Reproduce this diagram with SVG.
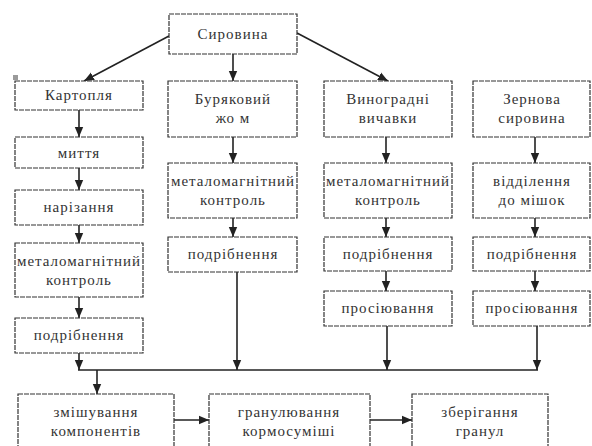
<svg xmlns="http://www.w3.org/2000/svg" width="592" height="446" viewBox="0 0 592 446" font-family="Liberation Serif, DejaVu Serif, serif">
<style>
.b{fill:#fff;stroke:#333;stroke-width:1.2;stroke-dasharray:5 1}
.t{font-size:15px;fill:#333;text-anchor:middle;letter-spacing:1px}
.c{stroke:#222;stroke-width:1.6;fill:none}
.a{marker-end:url(#ah)}
</style>
<defs>
<marker id="ah" markerUnits="userSpaceOnUse" markerWidth="10" markerHeight="10" viewBox="0 0 10 10" refX="10" refY="5" orient="auto">
<path d="M0,0.8 L10,5 L0,9.2 Z" fill="#222"/>
</marker>
</defs>
<rect x="13" y="75" width="5" height="5" fill="#9a9a9a"/>
<g id="connectors">
<line class="c a" x1="169" y1="36" x2="84" y2="81"/>
<line class="c a" x1="297" y1="33" x2="388" y2="81"/>
<line class="c a" x1="233" y1="54" x2="233" y2="81"/>
<line class="c a" x1="79" y1="110" x2="79" y2="137"/>
<line class="c a" x1="79" y1="168" x2="79" y2="190"/>
<line class="c a" x1="79" y1="225" x2="79" y2="243"/>
<line class="c a" x1="79" y1="297" x2="79" y2="318"/>
<line class="c a" x1="79" y1="353" x2="79" y2="370"/>
<line class="c a" x1="233" y1="137" x2="233" y2="163"/>
<line class="c a" x1="233" y1="218" x2="233" y2="237"/>
<line class="c a" x1="237" y1="272" x2="237" y2="370"/>
<line class="c a" x1="386" y1="137" x2="386" y2="163"/>
<line class="c a" x1="386" y1="218" x2="386" y2="237"/>
<line class="c a" x1="386" y1="271" x2="386" y2="291"/>
<line class="c a" x1="387" y1="326" x2="387" y2="370"/>
<line class="c a" x1="535" y1="137" x2="535" y2="163"/>
<line class="c a" x1="535" y1="218" x2="535" y2="237"/>
<line class="c a" x1="535" y1="271" x2="535" y2="291"/>
<line class="c a" x1="537" y1="326" x2="537" y2="370"/>
<line class="c" x1="78" y1="370" x2="538" y2="370"/>
<line class="c a" x1="97" y1="370" x2="97" y2="394"/>
<line class="c a" x1="174" y1="420" x2="209" y2="420"/>
<line class="c a" x1="370" y1="420" x2="412" y2="420"/>
</g>
<g id="n-syrovyna"><rect class="b" x="169" y="14" width="128" height="40"/><text class="t" x="233" y="39">Сировина</text></g>
<g id="n-kartoplia"><rect class="b" x="15" y="81" width="128" height="29"/><text class="t" x="79" y="100">Картопля</text></g>
<g id="n-buriakovyi"><rect class="b" x="168" y="81" width="129" height="56"/><text class="t" x="233" y="104">Буряковий</text><text class="t" x="233" y="123">жо м</text></g>
<g id="n-vynohradni"><rect class="b" x="324" y="81" width="128" height="56"/><text class="t" x="388" y="104">Виноградні</text><text class="t" x="388" y="123">вичавки</text></g>
<g id="n-zernova"><rect class="b" x="473" y="81" width="117" height="56"/><text class="t" x="532" y="104">Зернова</text><text class="t" x="532" y="123">сировина</text></g>
<g id="n-myttia"><rect class="b" x="15" y="137" width="128" height="31"/><text class="t" x="79" y="158">миття</text></g>
<g id="n-nariz"><rect class="b" x="15" y="190" width="128" height="35"/><text class="t" x="79" y="212">нарізання</text></g>
<g id="n-met1"><rect class="b" x="15" y="243" width="128" height="54"/><text class="t" x="79" y="266" textLength="124" lengthAdjust="spacingAndGlyphs">металомагнітний</text><text class="t" x="79" y="285">контроль</text></g>
<g id="n-podr1"><rect class="b" x="15" y="318" width="128" height="35"/><text class="t" x="79" y="340">подрібнення</text></g>
<g id="n-met2"><rect class="b" x="168" y="163" width="129" height="55"/><text class="t" x="233" y="186" textLength="124" lengthAdjust="spacingAndGlyphs">металомагнітний</text><text class="t" x="233" y="205">контроль</text></g>
<g id="n-podr2"><rect class="b" x="168" y="237" width="129" height="35"/><text class="t" x="233" y="259">подрібнення</text></g>
<g id="n-met3"><rect class="b" x="324" y="163" width="128" height="55"/><text class="t" x="388" y="186" textLength="124" lengthAdjust="spacingAndGlyphs">металомагнітний</text><text class="t" x="388" y="205">контроль</text></g>
<g id="n-podr3"><rect class="b" x="324" y="237" width="128" height="34"/><text class="t" x="388" y="259">подрібнення</text></g>
<g id="n-pros3"><rect class="b" x="324" y="291" width="128" height="35"/><text class="t" x="388" y="313">просіювання</text></g>
<g id="n-viddil"><rect class="b" x="473" y="163" width="117" height="55"/><text class="t" x="532" y="186">відділення</text><text class="t" x="532" y="205">до мішок</text></g>
<g id="n-podr4"><rect class="b" x="473" y="237" width="117" height="34"/><text class="t" x="532" y="259">подрібнення</text></g>
<g id="n-pros4"><rect class="b" x="473" y="291" width="117" height="35"/><text class="t" x="532" y="313">просіювання</text></g>
<g id="n-zmish"><rect class="b" x="18" y="394" width="156" height="70"/><text class="t" x="96" y="417">змішування</text><text class="t" x="96" y="436">компонентів</text></g>
<g id="n-hranul"><rect class="b" x="209" y="394" width="161" height="70"/><text class="t" x="289" y="417">гранулювання</text><text class="t" x="289" y="436">кормосуміші</text></g>
<g id="n-zberih"><rect class="b" x="412" y="394" width="136" height="70"/><text class="t" x="480" y="417">зберігання</text><text class="t" x="480" y="436">гранул</text></g>
</svg>
